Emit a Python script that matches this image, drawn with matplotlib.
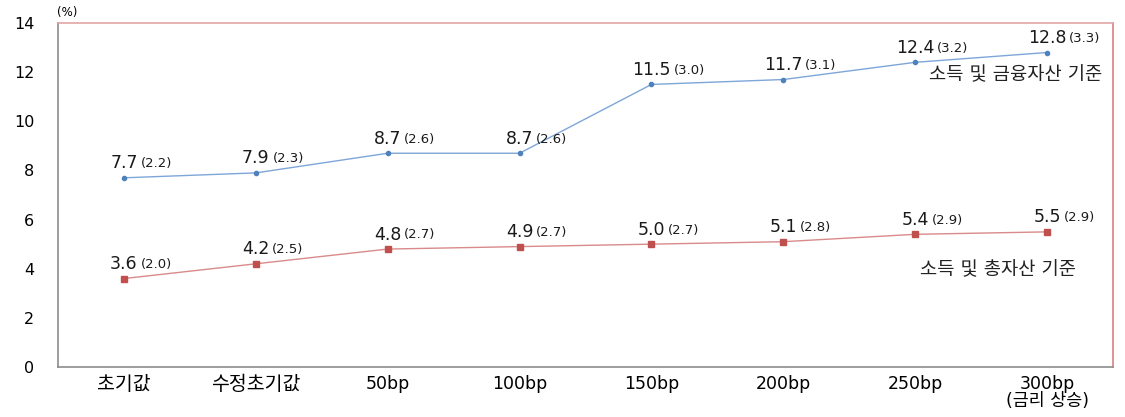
import matplotlib.pyplot as plt

plt.rcParams['font.family'] = ['DejaVu Sans', 'Noto Sans CJK KR']

cats = ['초기값', '수정초기값', '50bp', '100bp', '150bp', '200bp', '250bp', '300bp\n(금리 상승)']

# 소득 및 금융자산 기준
fin = [7.7, 7.9, 8.7, 8.7, 11.5, 11.7, 12.4, 12.8]
fin_sub = [2.2, 2.3, 2.6, 2.6, 3.0, 3.1, 3.2, 3.3]
# 소득 및 총자산 기준
tot = [3.6, 4.2, 4.8, 4.9, 5.0, 5.1, 5.4, 5.5]
tot_sub = [2.0, 2.5, 2.7, 2.7, 2.7, 2.8, 2.9, 2.9]

fig = plt.figure(figsize=(11.25, 4.17), dpi=100)
ax = fig.add_axes([0.0516, 0.1199, 0.9377, 0.8249])

x = list(range(len(cats)))
ax.plot(x, fin, color='#7EA6D9', lw=1.0, marker='o', ms=3,
        mfc='#4F81BD', mec='#4F81BD')
ax.plot(x, tot, color='#D98A8A', lw=1.0, marker='s', ms=4,
        mfc='#C0504D', mec='#C0504D')


def put_label(xi, yi, v, sub):
    main = ax.annotate(f'{v:.1f}', xy=(xi, yi), xytext=(0, 4),
                       textcoords='offset points', ha='center', va='bottom',
                       fontsize=12.5, color='#1a1a1a')
    ax.annotate(f'({sub:.1f})', xy=(1, 0), xycoords=main, xytext=(2, 1.5),
                textcoords='offset points', ha='left', va='bottom',
                fontsize=9.5, color='#1a1a1a')


for i in x:
    put_label(i, fin[i], fin[i], fin_sub[i])
    put_label(i, tot[i], tot[i], tot_sub[i])

ax.text(7.42, 11.9, '소득 및 금융자산 기준', ha='right', va='center',
        fontsize=13.5, color='#222222')
ax.text(7.22, 3.95, '소득 및 총자산 기준', ha='right', va='center',
        fontsize=13.5, color='#222222')

ax.set_xlim(-0.5, 7.5)
ax.set_ylim(0, 14)
ax.set_yticks(range(0, 15, 2))
ax.set_xticks(x)
ax.set_xticklabels(cats, fontsize=12.5, linespacing=0.88)
for lab in ax.get_xticklabels()[:2]:
    lab.set_fontsize(14)
ax.tick_params(axis='y', length=0, pad=17, labelsize=11.5)
ax.tick_params(axis='x', length=0, pad=6)

ax.spines['left'].set_color('#8C8C8C')
ax.spines['bottom'].set_color('#8C8C8C')
ax.spines['top'].set_color('#E3A5A5')
ax.spines['right'].set_color('#D98080')
for s in ax.spines.values():
    s.set_linewidth(1.2)

fig.text(0.051, 0.955, '(%)', fontsize=8.5, ha='left', va='bottom')

fig.savefig('out.png', dpi=100)
